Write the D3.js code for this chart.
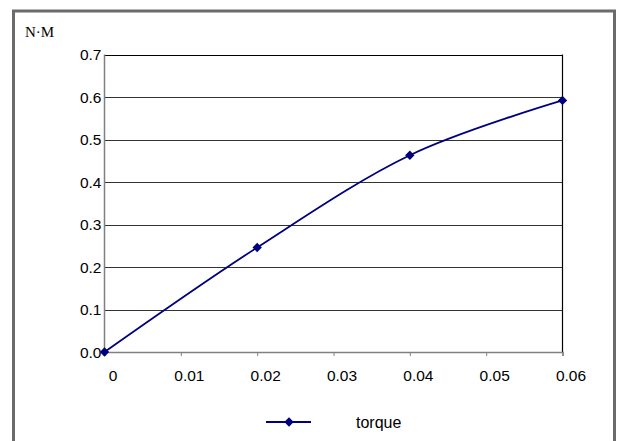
<!DOCTYPE html>
<html><head><meta charset="utf-8">
<script src="https://cdn.jsdelivr.net/npm/d3@7"></script>
<style>html,body{margin:0;padding:0;background:#fff;}svg{display:block;}</style>
</head><body>
<svg id="chart" width="617" height="441"></svg>
<script>
const xValues = [0, 0.02, 0.04, 0.06];
const torque = [0, 0.246, 0.463, 0.592];
const xTicks = [0, 0.01, 0.02, 0.03, 0.04, 0.05, 0.06];
const xTickLabels = ["0", "0.01", "0.02", "0.03", "0.04", "0.05", "0.06"];
const yTicks = [0, 0.1, 0.2, 0.3, 0.4, 0.5, 0.6, 0.7];
const yTickLabels = ["0.0", "0.1", "0.2", "0.3", "0.4", "0.5", "0.6", "0.7"];
const seriesName = "torque";
const unitLabel = "N·M";

const svg = d3.select("#chart");
const x = d3.scaleLinear().domain([0, 0.06]).range([104.5, 562.5]);
const y = d3.scaleLinear().domain([0, 0.7]).range([352, 54.5]);
const sans = "Liberation Sans, Arial, sans-serif";

// outer frame
svg.append("rect").attr("x", 13.5).attr("y", 11).attr("width", 601).attr("height", 440)
  .attr("fill", "#fff").attr("stroke", "#6b6b6b").attr("stroke-width", 3);

// gridlines
svg.append("g").selectAll("line").data(yTicks.slice(1)).join("line")
  .attr("x1", x(0)).attr("x2", x(0.06))
  .attr("y1", d => Math.round(y(d)) + 0.5).attr("y2", d => Math.round(y(d)) + 0.5)
  .attr("stroke", d => d === 0.7 ? "#000" : "#333").attr("stroke-width", 1.2);

// right border of plot
svg.append("line").attr("x1", x(0.06)).attr("x2", x(0.06))
  .attr("y1", y(0.7)).attr("y2", y(0)).attr("stroke", "#000").attr("stroke-width", 1.2);

// y axis
svg.append("line").attr("x1", x(0)).attr("x2", x(0)).attr("y1", y(0.7)).attr("y2", y(0))
  .attr("stroke", "#808080").attr("stroke-width", 1.5);
svg.append("g").selectAll("text").data(yTicks).join("text")
  .attr("x", 101.5).attr("y", d => y(d) + 5.5)
  .attr("text-anchor", "end").attr("font-family", sans)
  .attr("font-size", 15.5).attr("fill", "#000")
  .text((d, i) => yTickLabels[i]);

// x axis
const xAxis = d3.axisBottom(x).tickValues(xTicks).tickSize(4).tickFormat((d, i) => xTickLabels[i]);
const gx = svg.append("g").attr("transform", `translate(0,${y(0)})`).call(xAxis);
gx.select(".domain").attr("stroke", "#808080").attr("stroke-width", 1.5);
gx.selectAll(".tick line").attr("stroke", "#808080");
gx.selectAll(".tick text").attr("dx", 8).attr("dy", 0).attr("y", 28.5)
  .attr("font-family", sans).attr("font-size", 15.5).attr("fill", "#000");

// unit label
svg.append("text").attr("x", 25).attr("y", 37).attr("font-family", "Liberation Serif, Times New Roman, serif")
  .attr("font-size", 15).attr("fill", "#000").text(unitLabel);

// series
const data = xValues.map((v, i) => [v, torque[i]]);
const line = d3.line().x(d => x(d[0])).y(d => y(d[1])).curve(d3.curveCardinal.tension(0));
svg.append("path").datum(data).attr("d", line).attr("fill", "none")
  .attr("stroke", "#00007f").attr("stroke-width", 1.8);
const diamond = d3.symbol().type(d3.symbolDiamond2).size(56);
svg.append("g").selectAll("path").data(data).join("path")
  .attr("transform", d => `translate(${x(d[0])},${y(d[1])})`)
  .attr("d", diamond).attr("fill", "#00007f");

// legend
svg.append("line").attr("x1", 266).attr("x2", 311).attr("y1", 422).attr("y2", 422)
  .attr("stroke", "#00007f").attr("stroke-width", 1.8);
svg.append("path").attr("transform", "translate(289,422)").attr("d", diamond).attr("fill", "#00007f");
svg.append("text").attr("x", 356).attr("y", 427.5).attr("font-family", sans)
  .attr("font-size", 16).attr("fill", "#000").text(seriesName);
</script>
</body></html>
